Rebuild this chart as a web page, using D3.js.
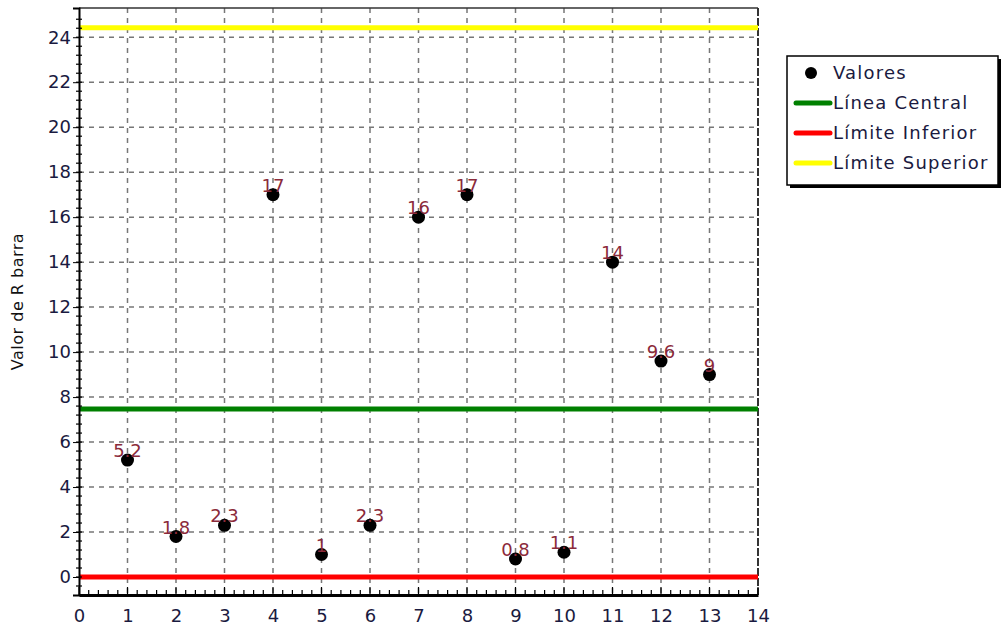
<!DOCTYPE html>
<html>
<head>
<meta charset="utf-8">
<script src="https://cdn.jsdelivr.net/npm/d3@7"></script>
<style>
  body { margin: 0; background: #fff; }
  text { font-family: "Comic Sans MS", "DejaVu Sans", sans-serif; }
</style>
</head>
<body>
<div id="chart-area"></div>
<script>
// muestras y valores de R barra
var muestras = [1, 2, 3, 4, 5, 6, 7, 8, 9, 10, 11, 12, 13];
var valores = [5.2, 1.8, 2.3, 17, 1, 2.3, 16, 17, 0.8, 1.1, 14, 9.6, 9];
var etiquetas = ["5.2", "1.8", "2.3", "17", "1", "2.3", "16", "17", "0.8", "1.1", "14", "9.6", "9"];

// limites de control
var lineaCentral = 7.47;
var limiteInferior = 0;
var limiteSuperior = 24.42;

var xTicks = d3.range(0, 15, 1);
var yTicks = d3.range(0, 25, 2);

var leyenda = [
    {nombre: "Valores", tipo: "punto", color: "#000"},
    {nombre: "Línea Central", tipo: "linea", color: "#008000"},
    {nombre: "Límite Inferior", tipo: "linea", color: "#ff0000"},
    {nombre: "Límite Superior", tipo: "linea", color: "#ffff00"}
];

var W = 1001, H = 637;
var margin = {left: 79, right: 243, top: 8, bottom: 42};

var svg = d3.select("#chart-area")
    .append("svg")
        .attr("width", W)
        .attr("height", H);

var x = d3.scaleLinear()
    .domain([0, 14])
    .range([margin.left, W - margin.right]);

var y = d3.scaleLinear()
    .domain([-0.8, 25.3])
    .range([H - margin.bottom, margin.top]);

// grid
var grid = svg.append("g");
grid.selectAll(".gv")
    .data(xTicks.filter(d => d > 0 && d < 14))
    .enter().append("line")
        .attr("x1", d => x(d)).attr("x2", d => x(d))
        .attr("y1", y.range()[1]).attr("y2", y.range()[0])
        .attr("stroke", "#777").attr("stroke-width", 1.5)
        .attr("stroke-dasharray", "5,5");
grid.selectAll(".gh")
    .data(yTicks)
    .enter().append("line")
        .attr("x1", x.range()[0]).attr("x2", x.range()[1])
        .attr("y1", d => y(d)).attr("y2", d => y(d))
        .attr("stroke", "#777").attr("stroke-width", 1.5)
        .attr("stroke-dasharray", "5,5");

// right border dashed darker
svg.append("line")
    .attr("x1", x(14)).attr("x2", x(14))
    .attr("y1", y.range()[1]).attr("y2", y.range()[0])
    .attr("stroke", "#333").attr("stroke-width", 2)
    .attr("stroke-dasharray", "8,2");

// top border
svg.append("line")
    .attr("x1", x(0)).attr("x2", x(14))
    .attr("y1", y.range()[1]).attr("y2", y.range()[1])
    .attr("stroke", "#333").attr("stroke-width", 1.5);

// control lines
var limites = [
    {v: limiteSuperior, c: "#ffff00"},
    {v: lineaCentral, c: "#008000"},
    {v: limiteInferior, c: "#ff0000"}
];
svg.selectAll(".lim")
    .data(limites)
    .enter().append("line")
        .attr("x1", x(0)).attr("x2", x(14))
        .attr("y1", d => y(d.v)).attr("y2", d => y(d.v))
        .attr("stroke", d => d.c)
        .attr("stroke-width", 5);

// axes
var yAxis = d3.axisLeft(y)
    .tickValues(yTicks)
    .tickSize(6)
    .tickPadding(2);
var gy = svg.append("g")
    .attr("transform", "translate(" + x(0) + ",0)")
    .call(yAxis);
gy.select(".domain").attr("stroke", "#000").attr("stroke-width", 2);
gy.selectAll("text").attr("font-size", 18).attr("fill", "#1a1a40");

// minor y ticks
svg.append("g").selectAll("line")
    .data(d3.range(-0.4, 25.2, 0.4))
    .enter().append("line")
        .attr("x1", x(0) - 3).attr("x2", x(0) + 3)
        .attr("y1", d => y(d)).attr("y2", d => y(d))
        .attr("stroke", "#000").attr("stroke-width", 1.2);

var xAxis = d3.axisBottom(x)
    .tickValues(xTicks)
    .tickSize(0)
    .tickPadding(14);
var gx = svg.append("g")
    .attr("transform", "translate(0," + y(-0.8) + ")")
    .call(xAxis);
gx.select(".domain").attr("stroke", "#000").attr("stroke-width", 3);
gx.selectAll("text").attr("font-size", 18).attr("fill", "#1a1a40");

// minor/major x ticks inward
svg.append("g").selectAll("line")
    .data(d3.range(0, 14.01, 0.2))
    .enter().append("line")
        .attr("x1", d => x(d)).attr("x2", d => x(d))
        .attr("y1", y(-0.8))
        .attr("y2", (d, i) => y(-0.8) - (i % 5 == 0 ? 8 : 5))
        .attr("stroke", "#000").attr("stroke-width", 1.2);

// y label
svg.append("text")
    .attr("transform", "translate(23," + ((y.range()[0] + y.range()[1]) / 2) + ") rotate(-90)")
    .attr("text-anchor", "middle")
    .attr("font-size", 16)
    .attr("letter-spacing", 0.5)
    .attr("fill", "#111")
    .text("Valor de R barra");

// points
svg.selectAll(".punto")
    .data(valores)
    .enter().append("circle")
        .attr("cx", (d, i) => x(muestras[i]))
        .attr("cy", d => y(d))
        .attr("r", 6.5)
        .attr("fill", "#000");

// value labels
svg.selectAll(".etq")
    .data(valores)
    .enter().append("text")
        .attr("x", (d, i) => x(muestras[i]))
        .attr("y", d => y(d) - 3)
        .attr("text-anchor", "middle")
        .attr("font-size", 18)
        .attr("fill", "#8b2a3a")
        .text((d, i) => etiquetas[i]);

// legend
var lg = svg.append("g").attr("transform", "translate(787,56)");
lg.append("rect")
    .attr("x", 3).attr("y", 3)
    .attr("width", 211).attr("height", 129)
    .attr("fill", "#000");
lg.append("rect")
    .attr("width", 211).attr("height", 129)
    .attr("fill", "#fff")
    .attr("stroke", "#000").attr("stroke-width", 1.5);

var items = lg.selectAll(".item")
    .data(leyenda)
    .enter().append("g")
        .attr("transform", (d, i) => "translate(0," + (17 + i * 30) + ")");
items.filter(d => d.tipo == "punto").append("circle")
    .attr("cx", 24).attr("cy", 0).attr("r", 6).attr("fill", d => d.color);
items.filter(d => d.tipo == "linea").append("line")
    .attr("x1", 9).attr("x2", 43).attr("y1", 0).attr("y2", 0)
    .attr("stroke", d => d.color).attr("stroke-width", 5)
    .attr("stroke-linecap", "round");
items.append("text")
    .attr("x", 46).attr("y", 6)
    .attr("font-size", 18)
    .attr("letter-spacing", 1.2)
    .attr("fill", "#1a1a40")
    .text(d => d.nombre);
</script>
</body>
</html>
